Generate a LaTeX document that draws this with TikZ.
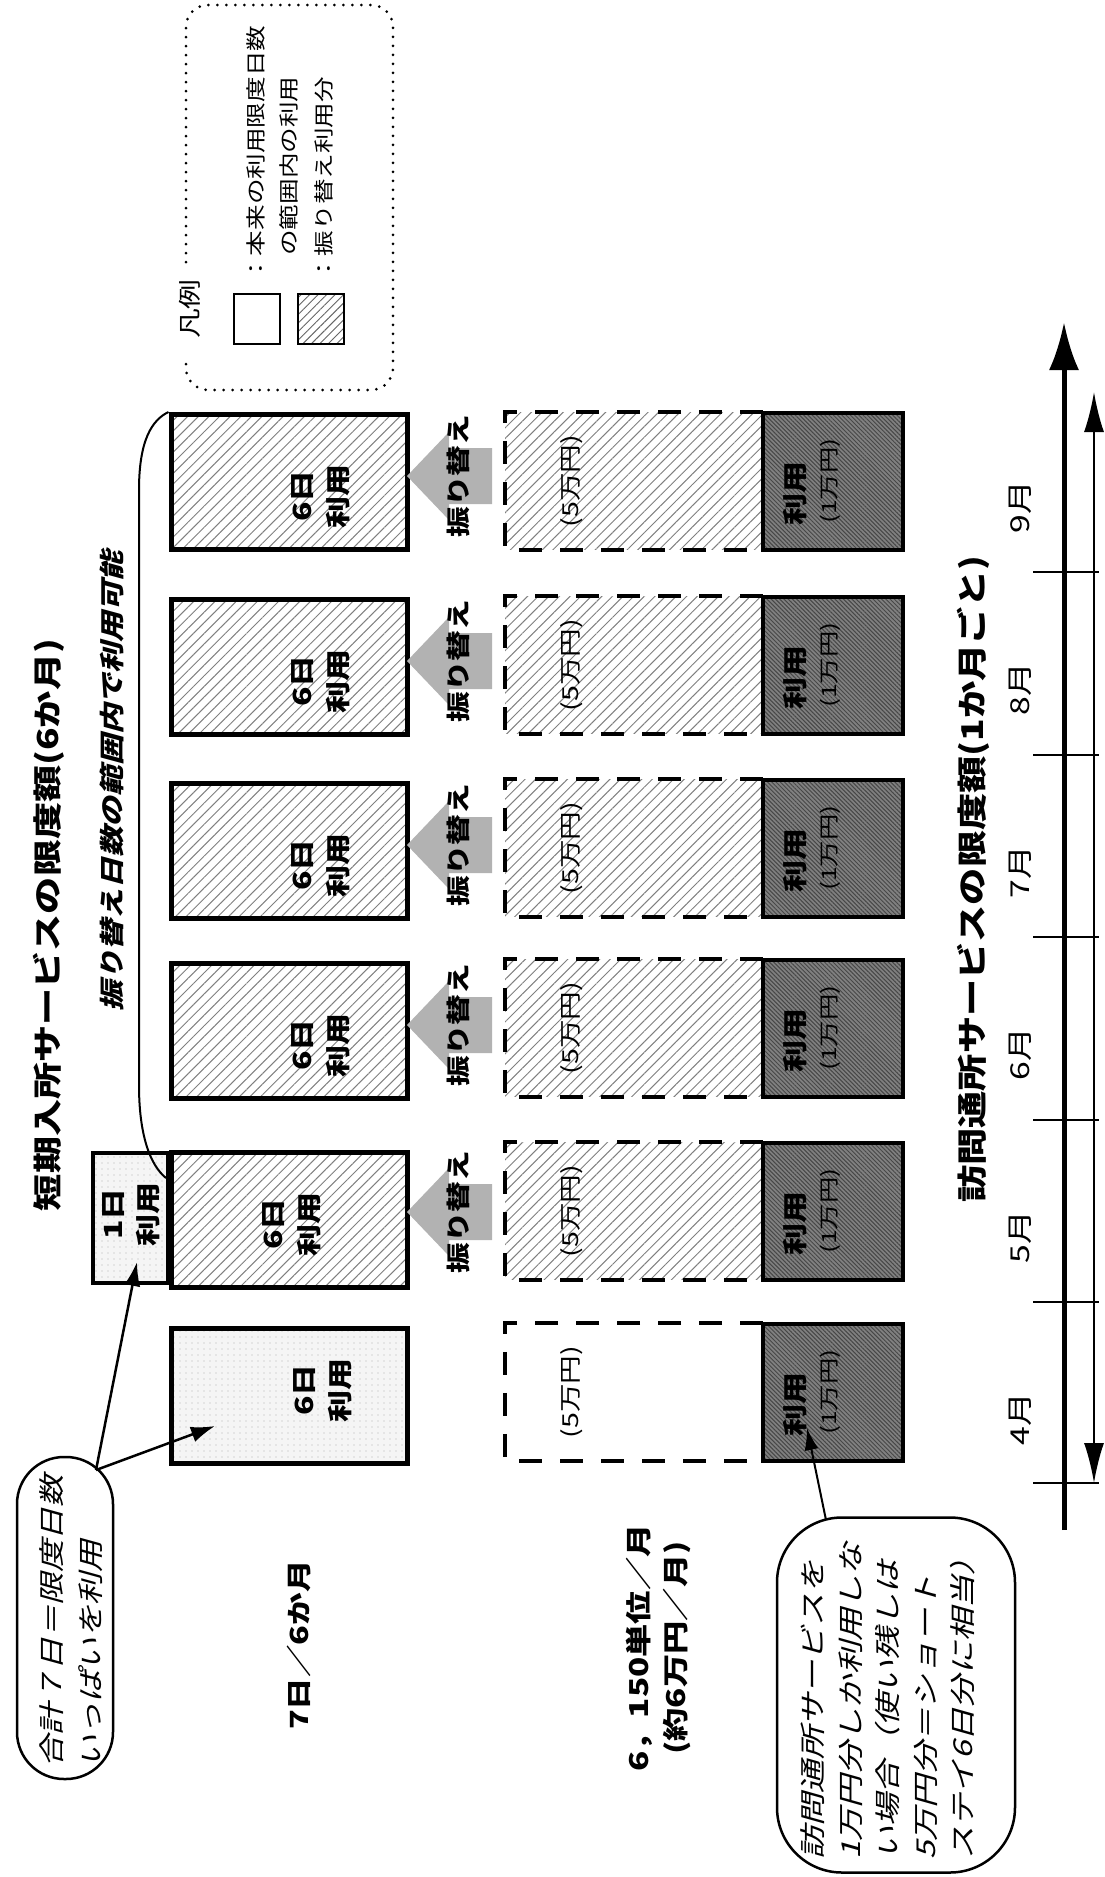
\documentclass[tikz,border=0pt]{standalone}
\usepackage{fontspec}
\setmainfont{Noto Sans CJK JP}
\newfontfamily\jpsl{Noto Sans CJK JP}[FakeSlant=0.22]
\usetikzlibrary{patterns.meta,arrows.meta}
\newcommand{\fsz}[2]{\fontsize{#1}{#2}\selectfont}
\tikzset{
  rt/.style={rotate=90, xscale=#1, inner sep=0pt, align=center},
  rt/.default=1.28,
  hat/.style={pattern={Lines[angle=45,distance=7.5pt,line width=1pt]}, pattern color=black!50},
  ssbox/.style={draw=black, line width=5pt, minimum width=236pt, minimum height=135pt, inner sep=0pt},
  dshbox/.style={minimum width=258pt, minimum height=137pt, inner sep=0pt},
  dline/.style={line width=4pt, dash pattern=on 23pt off 18pt},
  dkbox/.style={draw=black, line width=4pt, minimum width=140pt, minimum height=137pt, inner sep=0pt,
    preaction={fill=black!50}, pattern={Lines[angle=-45,distance=3pt,line width=1pt]}, pattern color=black!72},
  fkarrow/.style={fill=black!30},
  callout/.style={draw=black, line width=2.5pt, inner sep=0pt},
  ptr/.style={line width=2.5pt, -{Latex[length=24pt,width=16pt]}},
  speck/.style={preaction={fill=black!4}, pattern={Dots[distance=6pt,radius=0.7pt]}, pattern color=black!30},
}
\begin{document}
\begin{tikzpicture}[x=1pt,y=-1pt]
\useasboundingbox (0,0) rectangle (1104,1877);

% ---------- legend ----------
\draw[line width=3pt, line cap=round, dash pattern=on 0pt off 9pt, rounded corners=22pt]
  (186,262) -- (186,5) -- (393,5) -- (393,390) -- (186,390) -- (186,356);
\node[rt=1.3, font=\fsz{23}{26}] (lgT) at (190,309) {凡例};
\node[draw, line width=2.5pt, minimum width=46pt, minimum height=50pt, inner sep=0pt] (lgW) at (257,319) {};
\node[draw, line width=2.5pt, minimum width=46pt, minimum height=50pt, inner sep=0pt,
  pattern={Lines[angle=45,distance=6pt,line width=0.9pt]}, pattern color=black!60] (lgH) at (321,319) {};
\node[rt, anchor=west, font=\fsz{20}{24}] (lg1) at (256,282) {：本来の利用限度日数};
\node[rt, anchor=west, font=\fsz{20}{24}] (lg2) at (289,256) {の範囲内の利用};
\node[rt, anchor=west, font=\fsz{20}{24}] (lg3) at (324,282) {：振り替え利用分};

% ---------- titles ----------
\node[rt=1.28, font=\bfseries\fsz{29}{32}] (T1) at (49,925) {短期入所サービスの限度額(6か月)};
\node[rt=1.23, font=\jpsl\bfseries\fsz{25}{28}] (T2) at (112,781) {振り替え日数の範囲内で利用可能};
\node[rt=1.24, anchor=west, font=\bfseries\fsz{30}{34}] (T3) at (973,1203) {訪問通所サービスの限度額(1か月ごと)};

% ---------- short-stay boxes ----------
\node[ssbox, speck] (s0) at (289,1396) {};
\foreach \i/\c in {1/1220,2/1031,3/851,4/667,5/482}
  \node[ssbox, hat] (s\i) at (289,\c) {};
\node[draw, line width=4pt, speck, minimum width=75pt, minimum height=130pt, inner sep=0pt] (s1b) at (130.5,1218) {};
\node[rt, font=\bfseries\fsz{25}{36}] (st0) at (323,1390) {6日\\利用};
\node[rt, font=\bfseries\fsz{25}{36}] (st1) at (292,1224) {6日\\利用};
\foreach \i/\c in {2/1045,3/865,4/681,5/496}
  \node[rt, font=\bfseries\fsz{25}{36}] (st\i) at (321,\c) {6日\\利用};
\node[rt, font=\bfseries\fsz{25}{35}] (st1b) at (131,1214) {1日\\利用};

% bracket curve
\coordinate (cvEnd) at (166,1178);
\draw[line width=2pt] (s5.north west) .. controls (152,420) and (139,440) .. (139,490)
  -- (139,1085) .. controls (139,1135) and (150,1165) .. (cvEnd);

% ---------- transfer arrows ----------
\foreach \i/\c in {1/1212,2/1025,3/845,4/661,5/476} {
  \fill[fkarrow] (407,\c) -- (449,\c-44) -- (449,\c-28) -- (492,\c-28) -- (492,\c+28)
     -- (449,\c+28) -- (449,\c+44) -- cycle;
  \node[rt, font=\bfseries\fsz{24}{28}] (f\i) at (458,\c) {振り替え};
}

% ---------- dashed boxes ----------
\node[dshbox] (d0) at (634,1392) {};
\draw[dline] (d0.north east) -- (d0.north west) -- (d0.south west) -- (d0.south east);
\node[rt=1.3, font=\fsz{22}{26}] (y0) at (572,1392) {(5万円)};
\foreach \i/\c in {1/1211,2/1028,3/848,4/665,5/481} {
  \node[dshbox, hat] (d\i) at (634,\c) {};
  \draw[dline] (d\i.north east) -- (d\i.north west) -- (d\i.south west) -- (d\i.south east);
  \node[rt=1.3, font=\fsz{22}{26}] (y\i) at (572,\c) {(5万円)};
}

% ---------- dark boxes ----------
\foreach \i/\c in {0/1392,1/1211,2/1028,3/848,4/665,5/481} {
  \node[dkbox] (k\i) at (833,\c) {};
  \node[rt, font=\bfseries\fsz{25}{28}] (kt\i) at (795,\c+12) {利用};
  \node[rt=1.32, font=\fsz{20}{24}] (ky\i) at (830,\c) {(1万円)};
}

% ---------- axis ----------
\coordinate (axB) at (1064,1530);
\coordinate (axT) at (1064,322);
\draw[line width=5pt, -{Latex[length=48pt,width=30pt]}] (axB) -- (axT);
\coordinate (taB) at (1094,1483);
\coordinate (taT) at (1094,392);
\draw[line width=2pt, {Latex[length=40pt,width=20pt]}-{Latex[length=40pt,width=20pt]}] (taT) -- (taB);
\foreach \t in {1483,1302,1120,937,755,572}
  \draw[line width=2pt] (1033,\t) -- (1099,\t);
\foreach \i/\y/\m in {0/1419/4月,1/1237/5月,2/1054/6月,3/872/7月,4/689/8月,5/507/9月}
  \node[rt=1.3, font=\fsz{26}{30}] (m\i) at (1020,\y) {\m};

% ---------- row labels ----------
\node[rt=1.3, font=\bfseries\fsz{25}{30}] (r1) at (299,1645) {7日／6か月};
\node[rt=1.28, font=\bfseries\fsz{26}{37}] (r2) at (658,1648) {6，150単位／月\\(約6万円／月)};

% ---------- left callout ----------
\node[callout, rounded corners=47pt, minimum width=96pt, minimum height=322pt] (lc) at (65,1618) {};
\node[rt=1.25, anchor=west, align=left, font=\jpsl\fsz{26}{39}] (lct) at (71,1768) {合計７日＝限度日数\\いっぱいを利用};
\coordinate (lcA) at (96,1470);
\coordinate (tipA) at (137,1262);
\coordinate (tipB) at (215,1426);
\draw[ptr] (lcA) -- (tipA);
\draw[ptr] (lcA) -- (tipB);

% ---------- right callout ----------
\node[callout, rounded corners=65pt, minimum width=238pt, minimum height=355pt] (rc) at (896,1695) {};
\node[rt=1.28, anchor=west, align=left, font=\jpsl\fsz{26}{37.5}] (rct) at (888,1860)
  {訪問通所サービスを\\1万円分しか利用しな\\い場合（使い残しは\\5万円分＝ショート\\ステイ6日分に相当）};
\coordinate (rcA) at (826,1520);
\coordinate (tipC) at (807,1428);
\draw[line width=2pt, -{Latex[length=22pt,width=14pt]}] (rcA) -- (tipC);
\end{tikzpicture}
\end{document}
